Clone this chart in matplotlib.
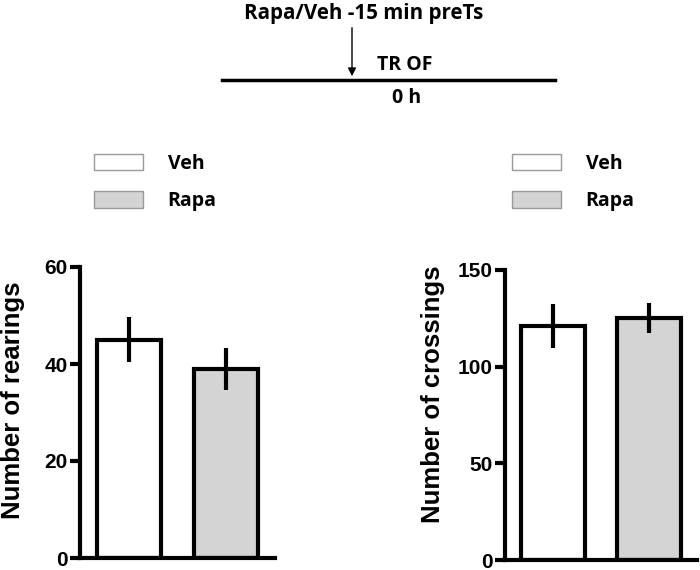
import numpy as np
import matplotlib
matplotlib.use("Agg")
import matplotlib.pyplot as plt
import matplotlib.transforms as mtransforms
from matplotlib.patches import Patch

# Werte
groups = ["Veh", "Rapa"]
colors = ["white", "#d4d4d4"]
rearings_mean = [45, 39]
rearings_sem = [4.6, 4.3]
crossings_mean = [121, 125]
crossings_sem = [11.5, 7.7]

label_font = "Liberation Sans"
text_font = "Open Sans"


def draw_panel(ax, means, sems, ylabel, ymax, ystep, labelx, labely):
    x = np.arange(len(groups))
    ax.bar(x, means, width=0.66, color=colors, edgecolor="black", linewidth=3,
           zorder=2)
    ax.errorbar(x, means, yerr=sems, fmt="none", ecolor="black",
                elinewidth=3, capsize=0, zorder=3)
    ax.set_xlim(-0.5, 1.5)
    ax.set_ylim(0, ymax)
    ax.set_yticks(np.arange(0, ymax + 1, ystep))
    ax.set_xticks([])
    for s in ["top", "right"]:
        ax.spines[s].set_visible(False)
    for s in ["left", "bottom"]:
        ax.spines[s].set_linewidth(3)
    ax.tick_params(axis="y", direction="out", length=7, width=3, pad=2,
                   labelsize=15)
    for lab in ax.get_yticklabels():
        lab.set_fontfamily(label_font)
        lab.set_fontweight("bold")
    ax.set_ylabel(ylabel, fontsize=18.5, fontweight="bold",
                  fontfamily=label_font)
    # x in Figurkoordinaten (rechte Kante des Labels), y in Achsenkoordinaten
    trans = mtransforms.blended_transform_factory(ax.figure.transFigure,
                                                  ax.transAxes)
    ax.yaxis.set_label_coords(labelx, labely, transform=trans)
    for sp in ax.spines.values():
        sp.set_clip_on(False)


def draw_legend(fig, x0, y0):
    handles = [Patch(facecolor=c, edgecolor="#999999", linewidth=1)
               for c in colors]
    leg = fig.legend(handles, groups, loc="upper left",
                     bbox_to_anchor=(x0, y0), frameon=False, borderpad=0,
                     handlelength=2.55, handleheight=0.95, labelspacing=0.9,
                     handletextpad=1.25, prop={"family": text_font,
                                                "weight": "bold", "size": 14})
    return leg


fig = plt.figure(figsize=(7, 5.7), dpi=100)

# Zeitschema oben
top = fig.add_axes([0, 0, 1, 1])
top.set_xlim(0, 700)
top.set_ylim(570, 0)
top.axis("off")
top.plot([222, 555], [80, 80], color="black", linewidth=2.5)
top.annotate("", xy=(352, 79), xytext=(352, 25),
             arrowprops=dict(arrowstyle="-|>", color="black", lw=1,
                             mutation_scale=12))
top.text(364, 13, "Rapa/Veh -15 min preTs", ha="center", va="center",
         fontsize=14.8, fontweight="bold", fontfamily=text_font)
top.text(405, 65, "TR OF", ha="center", va="center",
         fontsize=14, fontweight="bold", fontfamily=text_font)
top.text(407, 98, "0 h", ha="center", va="center",
         fontsize=14, fontweight="bold", fontfamily=text_font)

ax1 = fig.add_axes([80 / 700, 1 - 558 / 570, 195 / 700, 291 / 570])
draw_panel(ax1, rearings_mean, rearings_sem, "Number of rearings", 60, 20,
           25 / 700, 0.543)

ax2 = fig.add_axes([505 / 700, 1 - 560 / 570, 192 / 700, 290 / 570])
draw_panel(ax2, crossings_mean, crossings_sem, "Number of crossings", 150, 50,
           445 / 700, 0.57)

draw_legend(fig, 84 / 700, 1 - 144 / 570)
draw_legend(fig, 502 / 700, 1 - 144 / 570)

fig.savefig("out.png", dpi=100)
